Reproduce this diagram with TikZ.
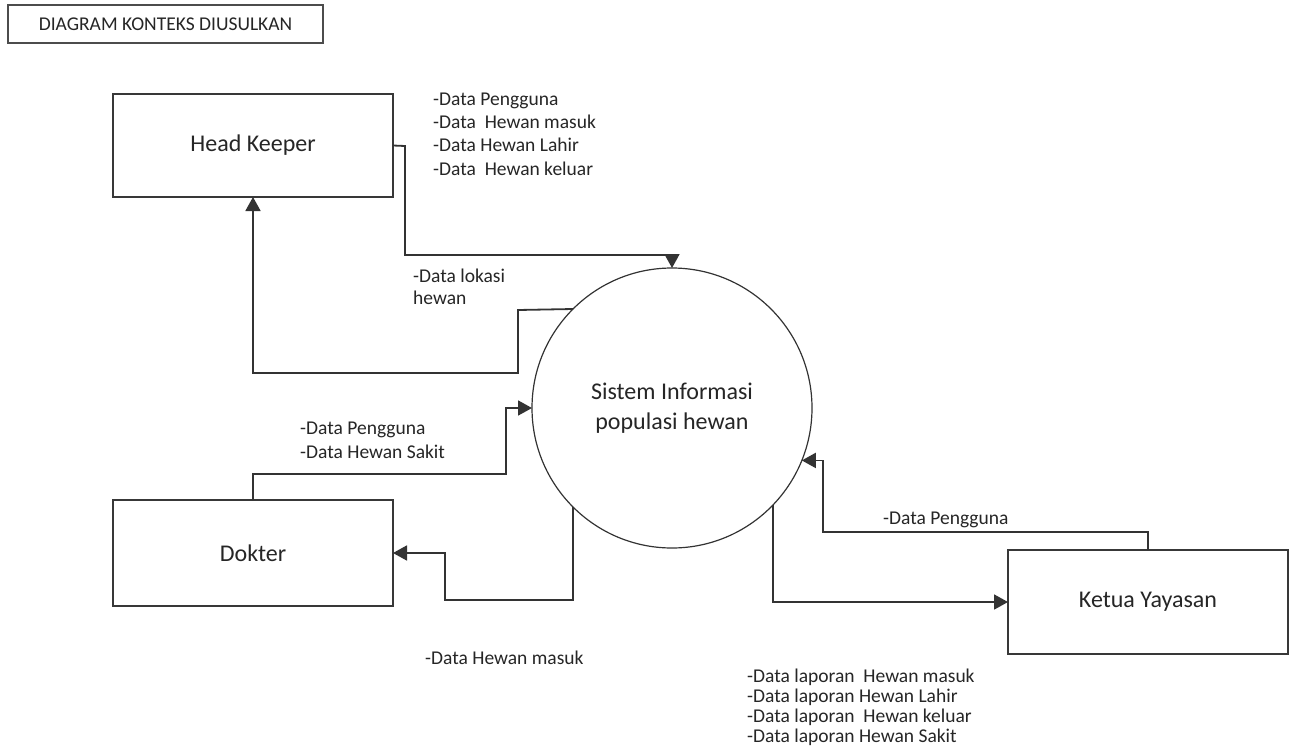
\documentclass[tikz,border=0pt]{standalone}
\usepackage{fontspec}
\setmainfont{Carlito}
\usetikzlibrary{arrows.meta}
\begin{document}
\begin{tikzpicture}[x=1pt,y=-1pt,
  entity/.style={draw=black!78, line width=1.8pt, minimum width=280pt, inner sep=0pt, outer sep=0pt,
    font=\fontsize{24}{28}\selectfont, text=black!85},
  proc/.style={circle, draw=black!80, line width=1.2pt, minimum size=280pt, inner sep=0pt, outer sep=0pt,
    align=center, font=\fontsize{24}{30}\selectfont, text=black!85},
  flow/.style={draw=black!80, line width=1.8pt, -{Triangle[length=14pt,width=15pt]}},
  lbl/.style={inner sep=0pt, align=left, anchor=north west, text=black!85},
]
\useasboundingbox[fill=white] (0,0) rectangle (1294,747);

% title box
\node[draw=black!70, line width=1.5pt, minimum width=315pt, minimum height=38pt, inner sep=0pt,
  font=\fontsize{19.5}{23}\selectfont, text=black!85] (title) at (165.5,24) {DIAGRAM KONTEKS DIUSULKAN};

% process and external entities
\node[proc] (sys) at (672,408) {Sistem Informasi\\populasi hewan};
\node[entity, minimum height=103pt] (hk) at (253,145.5) {Head Keeper};
\node[entity, minimum height=106pt] (dk) at (253,553) {Dokter};
\node[entity, minimum height=104pt] (ky) at (1148,602) {Ketua Yayasan};

% data flows
\draw[flow] (hk.east) -- (405,146) -- (405,255) -| (sys.north);
\draw[flow] (sys.135.6) -- (518,310) |- (253,373) -- (hk.south);
\draw[flow] (dk.north) |- (506,474) |- (sys.west);
\draw[flow] (sys.-135) |- (445,600) |- (dk.east);
\draw[flow] (ky.north) |- (823,532) |- (sys.-22.7);
\draw[flow] (sys.-44.4) |- (ky.west);

% flow labels
\node[lbl, font=\fontsize{19.5}{23.3}\selectfont] (lhk) at (433,92.5)
  {-Data Pengguna\\-Data\ \ Hewan masuk\\-Data Hewan Lahir\\-Data\ \ Hewan keluar};
\node[lbl, font=\fontsize{19.5}{22}\selectfont] (llok) at (413,268.5) {-Data lokasi\\hewan};
\node[lbl, font=\fontsize{19.5}{24}\selectfont] (ldk) at (300,421.5) {-Data Pengguna\\-Data Hewan Sakit};
\node[lbl, font=\fontsize{19.5}{23}\selectfont] (lmasuk) at (425,651) {-Data Hewan masuk};
\node[lbl, font=\fontsize{19.5}{23}\selectfont] (lky) at (883,512) {-Data Pengguna};
\node[lbl, font=\fontsize{19.5}{20}\selectfont] (llap) at (747,668.5)
  {-Data laporan\ \ Hewan masuk\\-Data laporan Hewan Lahir\\-Data laporan\ \ Hewan keluar\\-Data laporan Hewan Sakit};
\end{tikzpicture}
\end{document}
